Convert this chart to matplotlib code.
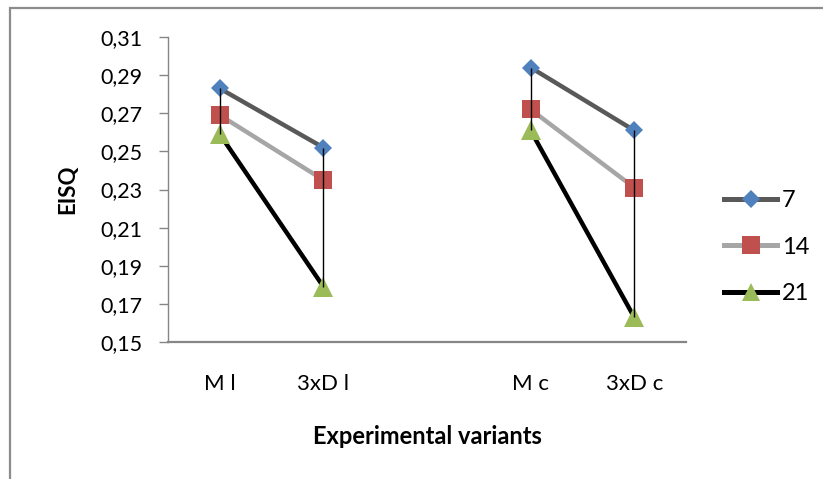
import matplotlib.pyplot as plt
from matplotlib.patches import Rectangle
from matplotlib.lines import Line2D

# data
categories = ['M l', '3xD l', '', 'M c', '3xD c']
series_names = ['7', '14', '21']
# None = gap (no value in the empty middle slot)
values_7 = [0.283, 0.252, None, 0.294, 0.261]
values_14 = [0.269, 0.235, None, 0.272, 0.231]
values_21 = [0.259, 0.179, None, 0.261, 0.163]
y_ticks = [0.15, 0.17, 0.19, 0.21, 0.23, 0.25, 0.27, 0.29, 0.31]
y_tick_labels = ['0,15', '0,17', '0,19', '0,21', '0,23', '0,25', '0,27', '0,29', '0,31']

plt.rcParams['font.family'] = ['Lato', 'DejaVu Sans']

line_colors = ['#595959', '#a6a6a6', '#000000']
marker_colors = ['#4f81bd', '#c0504d', '#9bbb59']
markers = ['D', 's', '^']
marker_sizes = [9.5, 13.5, 14]

fig = plt.figure(figsize=(8.23, 4.79), dpi=100)
ax = fig.add_axes([168 / 823, 1 - 342 / 479, (686 - 168) / 823, (342 - 37) / 479])

# outer chart border (cut off at right and bottom, as in the original)
fig.patches.append(Rectangle((10 / 823, -0.2), 1.2, 0.2 + 1 - 8 / 479,
                             transform=fig.transFigure, fill=False,
                             edgecolor='#8c8c8c', linewidth=1.6))

x = list(range(len(categories)))
all_series = [values_7, values_14, values_21]

for vals, name, lc, mc, mk, ms in zip(all_series, series_names, line_colors,
                                      marker_colors, markers, marker_sizes):
    # draw each pair of points (the middle slot is empty, so lines break there)
    pts = [(xi, v) for xi, v in zip(x, vals) if v is not None]
    groups = [pts[:2], pts[2:]]
    for g in groups:
        gx = [p[0] for p in g]
        gy = [p[1] for p in g]
        ax.plot(gx, gy, color=lc, linewidth=3.2, solid_capstyle='round',
                marker=mk, markersize=ms, markerfacecolor=mc,
                markeredgewidth=0, zorder=3)

# high-low lines
for xi in x:
    col = [s[xi] for s in all_series if s[xi] is not None]
    if col:
        ax.vlines(xi, min(col), max(col), color='black', linewidth=1.0, zorder=4)

ax.set_xlim(-0.5, len(categories) - 0.5)
ax.set_ylim(0.15, 0.31)
ax.set_xticks(x)
ax.set_xticklabels(categories, fontsize=16)
ax.set_yticks(y_ticks)
ax.set_yticklabels(y_tick_labels, fontsize=15.5)

ax.tick_params(axis='x', length=0, pad=23)
ax.tick_params(axis='y', length=6.5, width=1, color='#868686', direction='out', pad=12)

for side in ['top', 'right']:
    ax.spines[side].set_visible(False)
for side in ['left', 'bottom']:
    ax.spines[side].set_color('#868686')
ax.spines['left'].set_linewidth(1)
ax.spines['bottom'].set_linewidth(1.6)

ax.set_xlabel('Experimental variants', fontsize=17, fontweight='bold', labelpad=22)
ax.set_ylabel('EISQ', fontsize=16, fontweight='bold', labelpad=16)

handles = [Line2D([0], [0], color=lc, linewidth=3.6, marker=mk, markersize=ms * 0.95,
                  markerfacecolor=mc, markeredgewidth=0)
           for lc, mc, mk, ms in zip(line_colors, marker_colors, markers, marker_sizes)]
fig.legend(handles, series_names, loc='center left',
           bbox_to_anchor=(724 / 823, 1 - 247 / 479), bbox_transform=fig.transFigure,
           frameon=False, fontsize=17, handlelength=2.25, handletextpad=0.2,
           labelspacing=1.08, borderpad=0, borderaxespad=0)

fig.savefig('out.png', dpi=100)
